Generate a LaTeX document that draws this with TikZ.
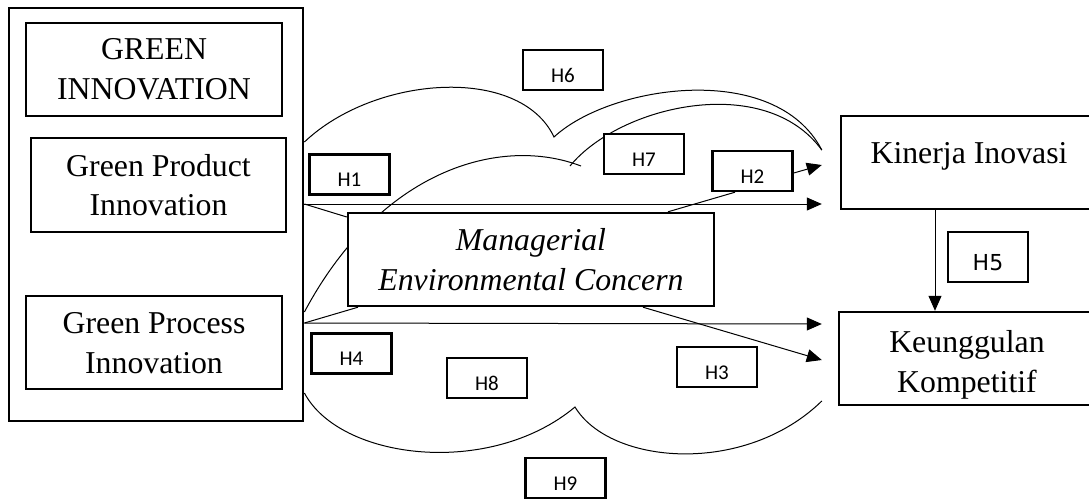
\documentclass[tikz,border=0pt]{standalone}
\usepackage{fontspec}
\setmainfont{Liberation Serif}
\newfontfamily\hfont{Carlito}
\newfontfamily\hfivefont{DejaVu Sans}
\usetikzlibrary{arrows.meta,calc,backgrounds}

\begin{document}
\begin{tikzpicture}[x=0.5pt,y=-0.5pt,
    box/.style={draw,line width=1.2pt,fill=white,align=center,inner sep=0pt,
        font=\fontsize{15.9}{19.8}\selectfont},
    hbox/.style={draw,line width=1.2pt,fill=white,minimum width=40pt,minimum height=20pt,
        inner sep=0pt,text height=12pt,text depth=0pt,font=\hfont\fontsize{10.5}{12}\selectfont},
    link/.style={line width=0.5pt},
    arr/.style={link,-{Triangle[length=7.5pt,width=6.5pt]}}]
    \useasboundingbox (0,0) rectangle (1089,500);

    \node[box,line width=1.4pt,minimum width=147pt,minimum height=206.5pt](gi)at(156,214.5){};
    \node[box,minimum width=128pt,minimum height=46.5pt](gtitle)at(154,69.5){GREEN\\INNOVATION};
    \node[box,minimum width=127.5pt,minimum height=47pt](gpi)at(158.5,185){Green Product\\Innovation};
    \node[box,minimum width=128pt,minimum height=46.5pt,text height=34pt,text depth=3.5pt](gpc)at(154,342.5){Green Process\\Innovation};
    \node[box,minimum width=183pt,minimum height=46.5pt,
        font=\fontsize{15.9}{19.8}\selectfont\itshape](mec)at(531,259.5){Managerial\\Environmental Concern};
    \node[box,minimum width=128pt,minimum height=46.5pt,text height=5pt,text depth=4pt](ki)at(969,162.5){Kinerja Inovasi};
    \node[box,minimum width=128pt,minimum height=46.5pt,text height=37pt,text depth=3.5pt](kk)at(967,358.5){Keunggulan\\Kompetitif};

    \node[hbox](h1)at(349.5,174.5){H1};
    \node[hbox](h2)at(752.5,171){H2};
    \node[hbox](h3)at(717,367){H3};
    \node[hbox](h4)at(351.5,353.5){H4};
    \node[hbox,minimum height=25pt,text height=13pt,
        font=\hfivefont\fontsize{11}{13}\selectfont](h5)at(988,257){H5};
    \node[hbox](h6)at(563,70){H6};
    \node[hbox](h7)at(644,154){H7};
    \node[hbox](h8)at(487,378){H8};
    \node[hbox](h9)at(565.5,478){H9};

    \coordinate(kiin)at($(ki.west)+(-18,0)$);
    \coordinate(kkin)at($(kk.west)+(-16,0)$);

    \draw[arr](gi.east |- 0,204)--(kiin |- 0,204);
    \draw[link](gi.east |- 0,204)--(mec.west |- 0,217);
    \draw[link](mec.north -| 668,0)--(h2.south -| 735,0);
    \draw[arr](h2.east |- 0,173)--(kiin |- 0,165);
    \draw[arr](gi.east |- 0,323)--(kkin |- 0,324);
    \draw[link](gi.east |- 0,323)--(mec.south -| 358,0);
    \draw[arr](mec.south -| 643,0)--(kkin |- 0,360);
    \draw[arr](ki.south -| 935,0)--(kk.north -| 935,0);

    \begin{pgfonlayer}{background}
    \draw[link](gi.east |- 0,142)..controls(375,75)and(520,65)..(554,137)
        ..controls(610,85)and(775,60)..(kiin |- 0,150);
    \draw[link](gi.east |- 0,312)..controls(380,170)and(500,135)..(581,166);
    \draw[link](570,166)..controls(620,105)and(765,72)..(kiin |- 0,150);
    \draw[link](gi.east |- 0,393)..controls(340,460)and(490,478)..(575,407)
        ..controls(610,465)and(745,476)..(kkin |- 0,401);
    \end{pgfonlayer}
\end{tikzpicture}
\end{document}
